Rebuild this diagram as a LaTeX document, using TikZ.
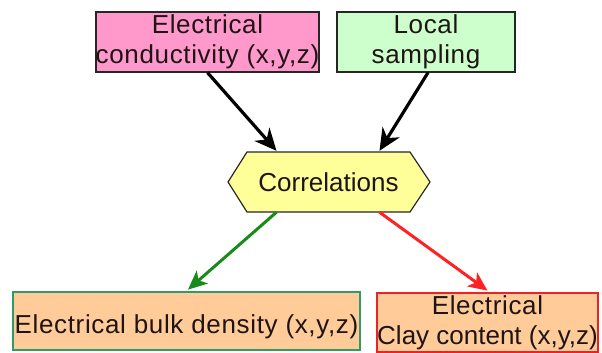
\documentclass[tikz,border=0pt]{standalone}
\usepackage{fontspec}
\setmainfont{Liberation Sans}
\usetikzlibrary{arrows.meta}
\definecolor{pinkfill}{HTML}{FF99CC}
\definecolor{greenfill}{HTML}{CCFFCC}
\definecolor{yellowfill}{HTML}{FFFF99}
\definecolor{peachfill}{HTML}{FFCC99}
\definecolor{greenborder}{HTML}{339966}
\definecolor{redborder}{HTML}{EE2222}
\definecolor{greenarrow}{HTML}{1A8A1A}
\definecolor{redarrow}{HTML}{FF2222}
\definecolor{txt}{HTML}{1E1414}
\tikzset{
  txtfont/.style={font=\fontsize{26pt}{30pt}\selectfont, text=txt},
  widefont/.style={font=\fontsize{26pt}{30pt}\selectfont\addfontfeatures{LetterSpace=2.5}, text=txt},
  topbox/.style={draw=black!85, line width=1.2pt, widefont, align=center, inner sep=0pt},
  botbox/.style={line width=2.8pt, fill=peachfill, widefont, align=center, inner sep=0pt},
  conn/.style={line width=3.2pt, -{Stealth[length=22pt,width=20pt,inset=7pt]}},
  connb/.style={line width=3pt, -{Stealth[length=19pt,width=17pt,inset=5pt]}}
}
\begin{document}
\begin{tikzpicture}[x=1pt,y=-1pt]
\useasboundingbox (0,0) rectangle (602,353);
\fill[white] (0,0) rectangle (602,353);
% hexagon
\draw[draw=black!85, line width=1.2pt, fill=yellowfill]
  (247,152) -- (410,152) -- (430,182) -- (410,212) -- (247,212) -- (228,182) -- cycle;
\node[txtfont, minimum width=163pt, minimum height=60pt, inner sep=0pt] (corr) at (328.5,182) {Correlations};
\node[topbox, fill=pinkfill, minimum width=223pt, minimum height=60pt] (ec) at (207.5,42) {Electrical\\\makebox[220pt][c]{conductivity (x,y,z)}};
\node[topbox, fill=greenfill, minimum width=178pt, minimum height=60pt] (ls) at (426,42) {Local\\sampling};
\node[botbox, draw=greenborder, minimum width=347pt, minimum height=58pt, text height=24pt, text depth=0pt] (bd) at (186.5,321) {\makebox[340pt][c]{Electrical bulk density (x,y,z)}};
\node[botbox, draw=redborder, minimum width=221pt, minimum height=59pt] (cc) at (487.5,322.5) {Electrical\\\makebox[214pt][c]{\addfontfeatures{LetterSpace=0}Clay content (x,y,z)}};
% connectors
\draw[conn, black] (ec.south) -- ([xshift=-52pt,yshift=1pt]corr.north);
\draw[conn, black] ([xshift=2pt]ls.south) -- ([xshift=51pt,yshift=1pt]corr.north);
\draw[connb, greenarrow] ([xshift=-52pt]corr.south) -- ([xshift=1.5pt,yshift=1pt]bd.north);
\draw[connb, redarrow] ([xshift=51pt]corr.south) -- ([yshift=1pt]cc.north);
\end{tikzpicture}
\end{document}
